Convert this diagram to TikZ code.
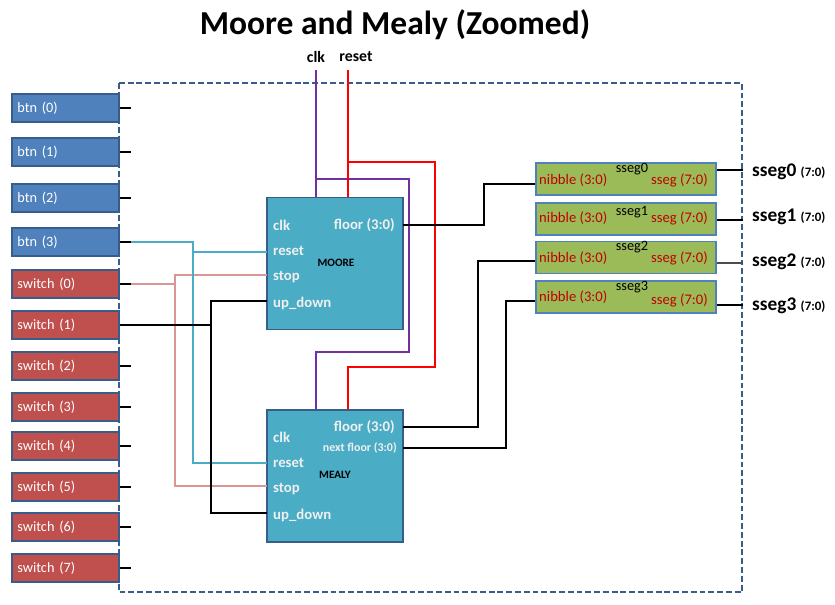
\documentclass[tikz,border=0pt]{standalone}
\usepackage{fontspec}
\setmainfont{Carlito}
\definecolor{edge}{HTML}{385D8A}
\definecolor{btnblue}{HTML}{4F81BD}
\definecolor{swred}{HTML}{C0504D}
\definecolor{modcyan}{HTML}{4BACC6}
\definecolor{ssegreen}{HTML}{9BBB59}
\definecolor{cyanline}{HTML}{4BACC6}
\definecolor{pinkline}{HTML}{D99694}
\definecolor{clkline}{HTML}{7030A0}
\definecolor{portred}{HTML}{C00000}
\begin{document}
\begin{tikzpicture}
            [
                x = 0.03cm, y = -0.03cm,
                inbtn/.style = {draw=edge, fill=btnblue, line width=1.3pt, text=white,
                    font=\fontsize{12.2}{14}\selectfont, minimum height=0.84cm,
                    text width=2.89cm, inner xsep=0.16cm, align=left},
                inswitch/.style = {inbtn, fill=swred},
                stub/.style = {line width=1.5pt},
                module/.style = {draw=edge, fill=modcyan, line width=1.3pt,
                    minimum width=4.08cm, minimum height=3.97cm, inner sep=0},
                port/.style = {text=white!94!black, font=\bfseries\fontsize{12.6}{14}\selectfont, inner sep=0},
                modname/.style = {font=\bfseries\fontsize{9.6}{11}\selectfont, inner sep=0},
                sseg/.style = {draw=btnblue, fill=ssegreen, line width=1.3pt,
                    minimum width=5.4cm, minimum height=0.95cm, inner sep=0},
                segpin/.style = {text=portred, font=\fontsize{12.5}{14}\selectfont, inner sep=0},
                segname/.style = {font=\fontsize{12.2}{14}\selectfont, inner sep=0},
                outname/.style = {anchor=west, font=\bfseries, inner sep=0},
                toplabel/.style = {font=\bfseries\fontsize{13.5}{16}\selectfont, inner sep=0},
                wire/.style = {line width=1.5pt},
                cyanwire/.style = {cyanline, line width=1.3pt},
                pinkwire/.style = {pinkline, line width=1.3pt},
                clkwire/.style = {clkline, line width=1.3pt},
                rstwire/.style = {red, line width=1.3pt}
            ]
            \useasboundingbox (0,0) rectangle (835,604);
            \node[font=\bfseries\fontsize{28.6}{32}\selectfont] (title) at (395,25) {Moore and Mealy (Zoomed)};
            \draw[edge, line width=1.2pt, dash pattern=on 5pt off 2.5pt] (119,83) rectangle (742,592);

            \node[inbtn] (b0) at (65.5,108) {btn (0)};
            \node[inbtn] (b1) at (65.5,152) {btn (1)};
            \node[inbtn] (b2) at (65.5,198) {btn (2)};
            \node[inbtn] (b3) at (65.5,242) {btn (3)};
            \node[inswitch] (s0) at (65.5,284) {switch (0)};
            \node[inswitch] (s1) at (65.5,325) {switch (1)};
            \node[inswitch] (s2) at (65.5,366) {switch (2)};
            \node[inswitch] (s3) at (65.5,407) {switch (3)};
            \node[inswitch] (s4) at (65.5,446) {switch (4)};
            \node[inswitch] (s5) at (65.5,487) {switch (5)};
            \node[inswitch] (s6) at (65.5,527) {switch (6)};
            \node[inswitch] (s7) at (65.5,568) {switch (7)};
            \draw[stub] (b0.east) -- ++(11,0);
            \draw[stub] (b1.east) -- ++(11,0);
            \draw[stub] (b2.east) -- ++(11,0);
            \draw[stub] (b3.east) -- ++(11,0) coordinate (b3-pin);
            \draw[stub] (s0.east) -- ++(11,0) coordinate (s0-pin);
            \draw[stub] (s1.east) -- ++(11,0) coordinate (s1-pin);
            \draw[stub] (s2.east) -- ++(11,0);
            \draw[stub] (s3.east) -- ++(11,0);
            \draw[stub] (s4.east) -- ++(11,0);
            \draw[stub] (s5.east) -- ++(11,0);
            \draw[stub] (s6.east) -- ++(11,0);
            \draw[stub] (s7.east) -- ++(11,0);

            \node[module] (moore) at (335,263.5) {};
            \node[module] (mealy) at (335,476) {};
            \node[modname] (moorename) at (336,263) {MOORE};
            \node[modname] (mealyname) at (335,475) {MEALY};
            \node[port, anchor=west] (moore-clk-l) at (273,225) {clk};
            \node[port, anchor=west] (moore-reset-l) at (273,251) {reset};
            \node[port, anchor=west] (moore-stop-l) at (273,277) {stop};
            \node[port, anchor=west] (moore-updown-l) at (273,303) {up\_down};
            \node[port, anchor=east] (moore-floor-l) at (395,225) {floor (3:0)};
            \node[port, anchor=west] (mealy-clk-l) at (273,437) {clk};
            \node[port, anchor=west] (mealy-reset-l) at (273,463) {reset};
            \node[port, anchor=west] (mealy-stop-l) at (273,489) {stop};
            \node[port, anchor=west] (mealy-updown-l) at (273,515) {up\_down};
            \node[port, anchor=east] (mealy-floor-l) at (395,427) {floor (3:0)};
            \node[port, anchor=east, font=\bfseries\fontsize{10.2}{12}\selectfont] (mealy-next-l) at (397,448) {next floor (3:0)};
            \coordinate (moore-reset) at (267,252);
            \coordinate (moore-stop) at (267,275);
            \coordinate (moore-updown) at (267,301);
            \coordinate (moore-floor) at (403,225);
            \coordinate (mealy-reset) at (267,463);
            \coordinate (mealy-stop) at (267,486);
            \coordinate (mealy-updown) at (267,513);
            \coordinate (mealy-floor) at (403,427);
            \coordinate (mealy-next) at (403,448);

            \node[toplabel] (clk) at (316,57) {clk};
            \node[toplabel] (reset) at (356,57) {reset};
            \coordinate (clk-in) at (316,70);
            \coordinate (reset-in) at (348,70);
            \draw[clkwire] (clk-in) -- (clk-in |- moore.north);
            \draw[clkwire] (316,179) -- (409,179) -- (409,352) -| (clk-in |- mealy.north);
            \draw[rstwire] (reset-in) -- (reset-in |- moore.north);
            \draw[rstwire] (348,162) -- (435,162) -- (435,367) -| (reset-in |- mealy.north);

            \coordinate (cyanx) at (193,0);
            \coordinate (pinkx) at (175,0);
            \coordinate (blkx) at (211,0);
            \draw[pinkwire] (moore-stop) -| (pinkx |- mealy-stop) -- (mealy-stop);
            \draw[pinkwire] (s0-pin) -- (pinkx |- s0-pin);
            \draw[cyanwire] (b3-pin) -| (cyanx |- mealy-reset) -- (mealy-reset);
            \draw[cyanwire] (cyanx |- moore-reset) -- (moore-reset);
            \draw[wire] (moore-updown) -| (blkx |- mealy-updown) -- (mealy-updown);
            \draw[wire] (s1-pin) -- (blkx |- s1-pin);

            \node[sseg] (sseg0) at (626,179) {};
            \node[sseg] (sseg1) at (626,219) {};
            \node[sseg] (sseg2) at (626,257.5) {};
            \node[sseg] (sseg3) at (626,297) {};
            \node[segpin, anchor=west] (nib0) at (539,180) {nibble (3:0)};
            \node[segpin, anchor=west] (nib1) at (539,218) {nibble (3:0)};
            \node[segpin, anchor=west] (nib2) at (539,258) {nibble (3:0)};
            \node[segpin, anchor=west] (nib3) at (539,297) {nibble (3:0)};
            \node[segpin, anchor=east] (seg0) at (708,180) {sseg (7:0)};
            \node[segpin, anchor=east] (seg1) at (708,218) {sseg (7:0)};
            \node[segpin, anchor=east] (seg2) at (708,258) {sseg (7:0)};
            \node[segpin, anchor=east] (seg3) at (708,300) {sseg (7:0)};
            \node[segname] (name0) at (632,169) {sseg0};
            \node[segname] (name1) at (632,212) {sseg1};
            \node[segname] (name2) at (632,247) {sseg2};
            \node[segname] (name3) at (632,287) {sseg3};
            \coordinate (sseg0-in) at ([yshift=-0.15cm]sseg0.west);
            \coordinate (sseg2-in) at ([yshift=-0.1cm]sseg2.west);
            \coordinate (sseg3-in) at ([yshift=-0.12cm]sseg3.west);

            \draw[wire] (moore-floor) -- (484,225) |- (sseg0-in);
            \draw[wire] (mealy-floor) -- (478,427) |- (sseg2-in);
            \draw[wire] (mealy-next) -- (506,448) |- (sseg3-in);

            \draw[wire] ([yshift=0.27cm]sseg0.east) -- ++(26,0);
            \draw[wire] ([yshift=-0.03cm]sseg1.east) -- ++(26,0);
            \draw[wire, black!70] ([yshift=-0.17cm]sseg2.east) -- ++(26,0);
            \draw[wire] ([yshift=-0.24cm]sseg3.east) -- ++(26,0);
            \node[outname] (out0) at (752,172) {\fontsize{16.5}{18}\selectfont sseg0 \fontsize{11}{12}\selectfont(7:0)};
            \node[outname] (out1) at (752,217) {\fontsize{16.5}{18}\selectfont sseg1 \fontsize{11}{12}\selectfont(7:0)};
            \node[outname] (out2) at (752,262) {\fontsize{16.5}{18}\selectfont sseg2 \fontsize{11}{12}\selectfont(7:0)};
            \node[outname] (out3) at (752,306) {\fontsize{16.5}{18}\selectfont sseg3 \fontsize{11}{12}\selectfont(7:0)};
        \end{tikzpicture}
\end{document}
